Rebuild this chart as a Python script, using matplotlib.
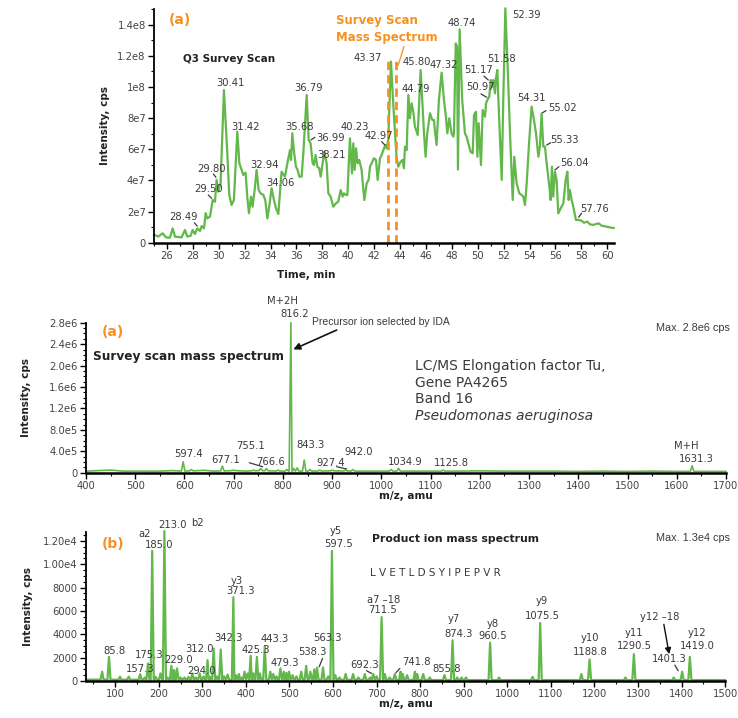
import numpy as np
import matplotlib
matplotlib.use("Agg")
import matplotlib.pyplot as plt
from matplotlib.ticker import MultipleLocator

# ---- (a) Q3 survey scan chromatogram ----
scan_time = [25.0, 25.07, 25.33, 25.67, 25.92, 26.23, 26.44, 26.62, 27.13, 27.39,
             27.57, 27.83, 27.98, 28.16, 28.34, 28.55, 28.68, 28.86, 28.99, 29.11,
             29.32, 29.53, 29.71, 29.83, 29.96, 30.14, 30.40, 30.66, 30.81, 30.99,
             31.17, 31.43, 31.59, 31.77, 31.89, 32.07, 32.20, 32.33, 32.49, 32.61,
             32.77, 32.92, 33.08, 33.23, 33.44, 33.59, 33.75, 33.90, 34.08, 34.26,
             34.42, 34.60, 34.85, 35.11, 35.37, 35.50, 35.58, 35.68, 35.81, 35.96,
             36.09, 36.22, 36.40, 36.53, 36.79, 36.94, 37.09, 37.25, 37.35, 37.48,
             37.61, 37.76, 37.87, 38.02, 38.15, 38.33, 38.46, 38.64, 38.84, 39.05,
             39.23, 39.41, 39.57, 39.67, 39.82, 39.93, 40.13, 40.29, 40.39, 40.49,
             40.60, 40.72, 40.85, 41.03, 41.24, 41.42, 41.57, 41.68, 41.80, 41.98,
             42.14, 42.27, 42.45, 42.58, 42.71, 42.86, 42.96, 43.09, 43.30, 43.43,
             43.61, 43.73, 43.86, 44.04, 44.20, 44.30, 44.38, 44.51, 44.64, 44.76,
             44.89, 45.02, 45.15, 45.36, 45.59, 45.74, 45.85, 45.97, 46.10, 46.31,
             46.49, 46.62, 46.70, 46.82, 47.00, 47.21, 47.39, 47.54, 47.65, 47.80,
             47.98, 48.11, 48.16, 48.30, 48.40, 48.47, 48.60, 48.80, 49.01, 49.14,
             49.27, 49.45, 49.61, 49.71, 49.86, 49.97, 50.07, 50.25, 50.38, 50.56,
             50.64, 50.74, 50.89, 51.00, 51.12, 51.20, 51.33, 51.41, 51.51, 51.64,
             51.85, 51.97, 52.13, 52.31, 52.49, 52.70, 52.82, 53.00, 53.21, 53.39,
             53.52, 53.65, 53.78, 53.96, 54.16, 54.34, 54.50, 54.68, 54.80, 54.93,
             55.06, 55.19, 55.32, 55.53, 55.63, 55.73, 55.83, 55.96, 56.09, 56.22,
             56.40, 56.61, 56.79, 56.92, 57.02, 57.12, 57.25, 57.38, 57.58, 57.79,
             58.02, 58.20, 58.46, 58.67, 58.92, 59.13, 59.34, 59.57, 59.95, 60.34,
             60.50]
scan_int_e7 = [0.50, 0.49, 0.39, 0.60, 0.34, 0.32, 0.92, 0.39, 0.34, 0.82,
               0.39, 0.45, 0.82, 0.56, 0.92, 0.75, 1.07, 0.92, 1.89, 1.56,
               1.67, 2.74, 2.63, 4.03, 3.28, 3.81, 9.80, 5.74, 3.07, 2.42,
               2.74, 7.13, 5.10, 4.67, 4.35, 4.50, 2.96, 1.89, 2.96, 2.31,
               3.38, 4.67, 3.38, 3.17, 3.07, 2.74, 1.56, 2.31, 3.49, 2.74,
               2.21, 1.84, 4.56, 4.24, 5.42, 5.95, 5.31, 7.03, 5.85, 4.88,
               4.67, 4.24, 4.24, 5.74, 9.48, 6.60, 6.38, 5.10, 4.99, 5.63,
               4.88, 4.78, 4.24, 5.10, 5.85, 5.10, 3.17, 2.96, 2.31, 2.53,
               2.64, 3.38, 2.96, 3.17, 3.06, 3.06, 6.70, 4.45, 6.38, 4.67,
               6.06, 5.10, 5.31, 4.67, 2.74, 3.81, 4.03, 4.88, 5.10, 5.42,
               5.31, 4.03, 5.42, 5.63, 5.95, 6.27, 6.06, 6.60, 11.63, 9.59,
               7.02, 5.52, 4.88, 5.20, 5.31, 4.78, 6.17, 5.95, 9.49, 7.99,
               8.95, 8.41, 7.45, 6.92, 11.09, 8.74, 7.02, 5.52, 7.02, 8.31,
               7.88, 7.88, 7.13, 6.27, 9.16, 10.92, 9.16, 8.09, 7.02, 7.99,
               7.02, 6.81, 7.00, 12.80, 12.60, 4.70, 13.70, 9.16, 7.02, 6.81,
               6.38, 5.84, 5.74, 8.20, 8.41, 5.52, 7.67, 4.99, 8.52, 8.09,
               8.95, 9.16, 9.38, 10.45, 10.02, 10.45, 9.59, 10.56, 11.09, 8.20,
               4.03, 9.16, 15.05, 11.30, 7.02, 2.74, 5.52, 3.81, 3.17, 3.06,
               2.96, 2.42, 3.81, 6.38, 8.74, 7.88, 7.02, 5.52, 6.17, 8.31,
               6.17, 6.17, 5.10, 3.60, 2.74, 4.88, 2.96, 4.56, 4.03, 1.88,
               2.20, 2.53, 4.03, 4.56, 2.74, 3.38, 2.74, 2.31, 1.46, 1.46,
               1.41, 1.28, 1.35, 1.18, 1.14, 1.20, 1.24, 1.09, 1.03, 0.96,
               0.95]
scan_labels = ["30.41", "31.42", "29.80", "29.50", "28.49", "32.94", "34.06", "35.68",
               "36.79", "36.99", "38.21", "40.23", "42.97", "43.37", "45.80", "44.79",
               "47.32", "48.74", "51.17", "51.58", "50.97", "52.39", "54.31", "55.02",
               "55.33", "56.04", "57.76"]
scan_yticks = [0, 2e7, 4e7, 6e7, 8e7, 1e8, 1.2e8, 1.4e8]
scan_yticklabels = ["0", "2e7", "4e7", "6e7", "8e7", "1e8", "1.2e8", "1.4e8"]
survey_window = [43.05, 43.65]

# ---- (a) survey scan mass spectrum ----
ms1_base_mz = [400, 425, 450, 475, 500, 550, 575, 600, 640, 660, 700, 725, 750, 800,
               860, 900, 950, 1000, 1050, 1100, 1150, 1200, 1250, 1300, 1350, 1400,
               1450, 1500, 1550, 1600, 1650, 1700]
ms1_base_int = [3e4, 4e4, 5e4, 3e4, 3e4, 3e4, 4e4, 3e4, 4.5e4, 3e4, 4e4, 3e4, 4e4, 3e4,
                3e4, 3.5e4, 3e4, 3e4, 3e4, 3e4, 3e4, 3.5e4, 3e4, 3e4, 3e4, 2.5e4,
                3e4, 2.5e4, 3e4, 2.5e4, 2.5e4, 2.5e4]
ms1_peak_mz = [597.4, 614, 677.1, 700, 740, 755.1, 766.6, 790, 808, 816.2, 822, 829,
               843.3, 855, 875, 900, 927.4, 942.0, 1020, 1034.9, 1125.8, 1631.3]
ms1_peak_int = [2.05e5, 6e4, 1.24e5, 5e4, 5e4, 8e4, 8e4, 5e4, 6e4, 2.8e6, 8e4, 9e4,
                2.36e5, 6e4, 5e4, 5e4, 5e4, 6e4, 6e4, 8e4, 5e4, 1.3e5]
ms1_labels = ["597.4", "677.1", "755.1", "766.6", "843.3", "927.4", "942.0",
              "1034.9", "1125.8", "1631.3"]
ms1_yticks = [0, 4e5, 8e5, 1.2e6, 1.6e6, 2.0e6, 2.4e6, 2.8e6]
ms1_yticklabels = ["0", "4.0e5", "8.0e5", "1.2e6", "1.6e6", "2.0e6", "2.4e6", "2.8e6"]

# ---- (b) product ion mass spectrum ----
ms2_base_mz = [33, 300, 600, 900, 1200, 1500]
ms2_base_int = [120, 100, 100, 80, 80, 80]
ms2_peak_mz = [70, 85.8, 111, 131, 157.3, 168, 175.3, 185.0, 193, 204, 213.0, 220,
               229.0, 235, 242, 250, 259, 268, 277, 285, 294.0, 303, 312.0, 318, 326,
               334, 342.3, 350, 358, 371.3, 377, 384, 390, 397, 404, 411, 417, 425.3,
               432, 443.3, 456, 463, 470, 479.3, 487, 493, 499, 507, 516, 527, 538.3,
               548, 557, 563.3, 577, 589, 597.5, 605, 615, 629, 646, 658, 673, 685,
               692.3, 700, 711.5, 719, 730, 741.8, 755, 760, 770, 788, 793, 807, 822,
               855.8, 874.3, 885, 895, 905, 960.5, 981, 1058, 1075.5, 1170, 1188.8,
               1271, 1290.5, 1382, 1401.3, 1419.0]
ms2_peak_int = [800, 2070, 370, 370, 600, 300, 1500, 11150, 350, 650, 12850, 300,
                1300, 940, 1080, 300, 300, 350, 650, 300, 650, 400, 1790, 350, 2780,
                400, 2700, 400, 550, 7180, 500, 600, 300, 800, 650, 2150, 650, 2070,
                650, 3000, 800, 600, 400, 1080, 800, 700, 800, 500, 400, 800, 1300,
                800, 1000, 1150, 1160, 400, 11150, 500, 300, 600, 600, 300, 600, 300,
                600, 400, 5480, 600, 300, 600, 800, 600, 500, 800, 600, 600, 300,
                510, 3490, 300, 300, 300, 3290, 300, 350, 4970, 600, 1840,
                300, 2300, 300, 800, 2070]
ms2_yticks = [0, 2000, 4000, 6000, 8000, 10000, 12000]
ms2_yticklabels = ["0", "2000", "4000", "6000", "8000", "1.00e4", "1.20e4"]
sequence = "L V E T L D S Y I P E P V R"

GREEN = "#62b84a"
ORANGE = "#f7901e"
TXT = "#3a3a3a"
NARROW = ["Liberation Sans Narrow", "Liberation Sans", "DejaVu Sans"]
LSIZE = 7.2


def profile(base_mz, base_int, peak_mz, peak_int, hw):
    # baseline nodes outside the peaks, plus a narrow triangle for every peak
    xs, ys = [], []
    for m, v in zip(base_mz, base_int):
        if all(abs(m - p) > hw for p in peak_mz):
            xs.append(m)
            ys.append(v)
    for m, h in zip(peak_mz, peak_int):
        b = np.interp(m, base_mz, base_int)
        xs += [m - hw, m, m + hw]
        ys += [b, h, b]
    order = np.argsort(xs)
    return np.array(xs)[order], np.array(ys)[order]


def style_axes(ax):
    for s in ["top", "right"]:
        ax.spines[s].set_visible(False)
    ax.spines["left"].set_linewidth(1.3)
    ax.spines["bottom"].set_linewidth(1.8)
    ax.tick_params(which="major", direction="out", length=4, width=1,
                   labelsize=7.2, labelcolor="#444444", pad=2)
    ax.tick_params(which="minor", direction="out", length=2.5, width=0.8)


def lead(ax, p0, p1, color=TXT):
    ax.annotate("", xy=p1, xytext=p0,
                arrowprops=dict(arrowstyle="-", color=color, lw=0.9,
                                shrinkA=0, shrinkB=0))


fig = plt.figure(figsize=(7.38, 7.18), dpi=100)

# ---------------- top: chromatogram ----------------
ax1 = fig.add_axes([0.2087, 0.6620, 0.6229, 0.3253])
ax1.plot(scan_time, np.array(scan_int_e7) * 1e7, color=GREEN, lw=1.6, clip_on=False)
ax1.set_xlim(25, 60.5)
ax1.set_ylim(0, 1.5e8)
ax1.set_xticks(np.arange(26, 61, 2))
ax1.xaxis.set_minor_locator(MultipleLocator(1))
ax1.set_yticks(scan_yticks)
ax1.set_yticklabels(scan_yticklabels)
ax1.yaxis.set_minor_locator(MultipleLocator(1e7))
style_axes(ax1)
ax1.set_ylabel("Intensity, cps", fontsize=7.5, fontweight="bold", color="#222222")
ax1.yaxis.set_label_coords(-0.095, 0.5)
ax1.set_xlabel("Time, min", fontsize=7.5, fontweight="bold", color="#222222")
ax1.xaxis.set_label_coords(0.33, -0.115)

for x in survey_window:
    ax1.plot([x, x], [0, 1.17e8], color=ORANGE, lw=2, dashes=(3, 1.8))
lead(ax1, (43.86, 1.14e8), (44.3, 1.26e8), color=ORANGE)
ax1.text(39.05, 1.43e8, "Survey Scan", color=ORANGE, fontsize=8.5,
         fontweight="bold", ha="left", va="center")
ax1.text(39.05, 1.32e8, "Mass Spectrum", color=ORANGE, fontsize=8.5,
         fontweight="bold", ha="left", va="center")
ax1.text(27.0, 1.43e8, "(a)", color=ORANGE, fontsize=10, fontweight="bold",
         ha="center", va="center")
ax1.text(27.26, 1.18e8, "Q3 Survey Scan", color="#222222", fontsize=7.5,
         fontweight="bold", ha="left", va="center")

scan_label_pos = [(30.94, 1.024e8), (32.08, 7.41e7), (29.45, 4.71e7), (29.19, 3.43e7),
                  (27.26, 1.67e7), (33.51, 4.99e7), (34.73, 3.81e7), (36.22, 7.41e7),
                  (36.91, 9.92e7), (38.66, 6.74e7), (38.72, 5.63e7), (40.52, 7.45e7),
                  (42.39, 6.87e7), (41.5, 1.184e8), (45.28, 1.162e8), (45.23, 9.85e7),
                  (47.41, 1.141e8), (48.76, 1.413e8), (50.09, 1.109e8), (51.85, 1.178e8),
                  (50.22, 9.98e7), (53.78, 1.462e8), (54.11, 9.27e7), (56.56, 8.63e7),
                  (56.73, 6.6e7), (57.45, 5.1e7), (59.05, 2.15e7)]
for lab, (x, y) in zip(scan_labels, scan_label_pos):
    ax1.text(x, y, lab, fontsize=LSIZE, color=TXT, ha="center", va="center")
for p0, p1 in [((28.11, 1.28e7), (28.34, 1.07e7)), ((29.58, 4.41e7), (29.78, 4.2e7)),
               ((29.19, 3.06e7), (29.45, 2.85e7)), ((37.12, 6.6e7), (37.43, 6.77e7)),
               ((42.58, 6.49e7), (42.83, 6.27e7)), ((50.48, 1.07e8), (50.81, 1.045e8)),
               ((50.25, 9.55e7), (50.69, 9.34e7)), ((55.01, 8.35e7), (55.27, 8.48e7)),
               ((55.32, 6.27e7), (55.63, 6.42e7)), ((55.96, 4.67e7), (56.27, 4.88e7)),
               ((57.79, 1.63e7), (58.02, 1.89e7))]:
    lead(ax1, p0, p1)

# ---------------- middle: survey scan spectrum ----------------
ax2 = fig.add_axes([0.1165, 0.3416, 0.8672, 0.2089])
mx, my = profile(ms1_base_mz, ms1_base_int, ms1_peak_mz, ms1_peak_int, 3.5)
ax2.plot(mx, my, color=GREEN, lw=1.2, clip_on=False)
ax2.set_xlim(400, 1700)
ax2.set_ylim(0, 2.8e6)
ax2.set_xticks(np.arange(400, 1701, 100))
ax2.xaxis.set_minor_locator(MultipleLocator(50))
ax2.set_yticks(ms1_yticks)
ax2.set_yticklabels(ms1_yticklabels)
ax2.yaxis.set_minor_locator(MultipleLocator(1e5))
style_axes(ax2)
ax2.set_ylabel("Intensity, cps", fontsize=7.5, fontweight="bold", color="#222222")
ax2.yaxis.set_label_coords(-0.086, 0.5)
ax2.set_xlabel("m/z, amu", fontsize=7.5, fontweight="bold", color="#222222")
ax2.xaxis.set_label_coords(0.5, -0.12)

ax2.text(455.5, 2.632e6, "(a)", color=ORANGE, fontsize=10, fontweight="bold",
         ha="center", va="center")
ax2.text(414.8, 2.165e6, "Survey scan mass spectrum", color="#222222", fontsize=8.7,
         fontweight="bold", ha="left", va="center")
ax2.text(799.6, 3.21e6, "M+2H", fontsize=LSIZE, color=TXT, ha="center", va="center")
ax2.text(824.5, 2.957e6, "816.2", fontsize=LSIZE, color=TXT, ha="center", va="center")
ax2.text(859.7, 2.807e6, "Precursor ion selected by IDA", fontsize=7.5, color=TXT,
         family=NARROW, ha="left", va="center")
ax2.annotate("", xy=(821.1, 2.303e6), xytext=(909.3, 2.664e6),
             arrowprops=dict(arrowstyle="-|>", color="#111111", lw=1.2,
                             mutation_scale=10, shrinkA=0, shrinkB=0))
ax2.text(1708, 2.695e6, "Max. 2.8e6 cps", fontsize=7.8, color=TXT, family=NARROW,
         ha="right", va="center")
ax2.text(1068.3, 1.992e6, "LC/MS Elongation factor Tu,", fontsize=10, color=TXT,
         ha="left", va="center")
ax2.text(1068.3, 1.68e6, "Gene PA4265", fontsize=10, color=TXT, ha="left", va="center")
ax2.text(1068.3, 1.376e6, "Band 16", fontsize=10, color=TXT, ha="left", va="center")
ax2.text(1068.3, 1.058e6, "Pseudomonas aeruginosa", fontsize=10, color=TXT,
         style="italic", ha="left", va="center")
ax2.text(1618.8, 5.04e5, "M+H", fontsize=LSIZE, color=TXT, ha="center", va="center")

ms1_label_pos = [(607.8, 3.49e5), (683.8, 2.37e5), (734.6, 5.04e5), (775.8, 2.05e5),
                 (856.4, 5.17e5), (897.1, 1.75e5), (954.5, 3.92e5), (1048, 2.05e5),
                 (1142.8, 1.87e5), (1640.5, 2.56e5)]
for lab, (x, y) in zip(ms1_labels, ms1_label_pos):
    ax2.text(x, y, lab, fontsize=LSIZE, color=TXT, ha="center", va="center")
lead(ax2, (731.7, 1.87e5), (758.9, 1.12e5))
lead(ax2, (909.3, 1.12e5), (929.6, 6.9e4))

# ---------------- bottom: product ion spectrum ----------------
ax3 = fig.add_axes([0.1165, 0.0515, 0.8661, 0.2081])
px_, py_ = profile(ms2_base_mz, ms2_base_int, ms2_peak_mz, ms2_peak_int, 3.5)
ax3.plot(px_, py_, color=GREEN, lw=1.6, clip_on=False)
ax3.set_xlim(33, 1500)
ax3.set_ylim(0, 12800)
ax3.set_xticks(np.arange(100, 1501, 100))
ax3.xaxis.set_minor_locator(MultipleLocator(50))
ax3.set_yticks(ms2_yticks)
ax3.set_yticklabels(ms2_yticklabels)
ax3.yaxis.set_minor_locator(MultipleLocator(500))
style_axes(ax3)
ax3.set_ylabel("Intensity, cps", fontsize=7.5, fontweight="bold", color="#222222")
ax3.yaxis.set_label_coords(-0.083, 0.5)
ax3.set_xlabel("m/z, amu", fontsize=7.5, fontweight="bold", color="#222222")
ax3.xaxis.set_label_coords(0.5, -0.12)

ax3.text(95.4, 11769, "(b)", color=ORANGE, fontsize=10, fontweight="bold",
         ha="center", va="center")
ax3.text(688.5, 12144, "Product ion mass spectrum", color="#222222", fontsize=7.8,
         fontweight="bold", ha="left", va="center")
ax3.text(1510.5, 12229, "Max. 1.3e4 cps", fontsize=7.8, color=TXT, family=NARROW,
         ha="right", va="center")
ax3.text(684.6, 9216, sequence, fontsize=7.5, color=TXT, ha="left", va="center")

ms2_texts = [("a2", 166.6, 12569), ("185.0", 201, 11659), ("213.0", 230.8, 13361),
             ("b2", 288.2, 13556), ("y5", 606.5, 12850), ("597.5", 613.4, 11718),
             ("y3", 378.6, 8595), ("371.3", 387.8, 7685), ("85.8", 99.3, 2553),
             ("175.3", 178, 2187), ("157.3", 156.7, 1047), ("229.0", 244.6, 1787),
             ("294.0", 298.3, 877), ("312.0", 292.8, 2723), ("342.3", 359.4, 3685),
             ("425.3", 422.9, 2698), ("443.3", 466.5, 3634), ("479.3", 489.5, 1557),
             ("538.3", 553.1, 2493), ("563.3", 586.6, 3685), ("692.3", 671.5, 1362),
             ("a7 \u201318", 716.7, 6953), ("711.5", 714.4, 6042), ("741.8", 791.8, 1591),
             ("855.8", 860.6, 1021), ("y7", 877.4, 5336), ("874.3", 888.8, 4000),
             ("y8", 966.2, 4851), ("960.5", 966.2, 3830), ("y9", 1078.7, 6893),
             ("1075.5", 1080, 5532), ("y10", 1189.5, 3719), ("1188.8", 1189.5, 2493),
             ("y11", 1290.5, 4110), ("1290.5", 1290.5, 3004), ("y12 \u201318", 1348.6, 5472),
             ("1401.3", 1371.5, 1872), ("y12", 1435.8, 4110), ("1419.0", 1435.8, 3004)]
for lab, x, y in ms2_texts:
    ax3.text(x, y, lab, fontsize=LSIZE, color=TXT, ha="center", va="center")
lead(ax3, (568.2, 1217), (576, 1932))
lead(ax3, (677, 877), (688.5, 655))
lead(ax3, (744.2, 706), (753.4, 1081))
lead(ax3, (1384.6, 1362), (1392.2, 877))
ax3.annotate("", xy=(1371.5, 2298), xytext=(1359.3, 4851),
             arrowprops=dict(arrowstyle="-|>", color="#111111", lw=1.0,
                             mutation_scale=9, shrinkA=0, shrinkB=0))

fig.savefig("out.png", dpi=100)
